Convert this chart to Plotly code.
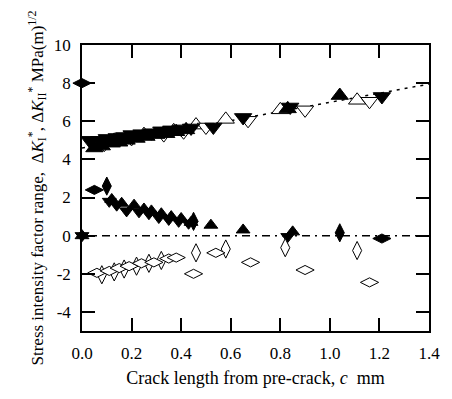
import plotly.graph_objects as go

# Mode I (upper cluster)
ki_fill_up_x = [0.05, 0.08, 0.12, 0.15, 0.18, 0.22, 0.26, 0.30, 0.34, 0.38, 0.42, 0.83, 1.04]
ki_fill_up_y = [4.6, 4.7, 4.85, 4.9, 5.0, 5.1, 5.2, 5.3, 5.35, 5.45, 5.55, 6.65, 7.35]
ki_fill_dn_x = [0.03, 0.07, 0.10, 0.14, 0.17, 0.20, 0.24, 0.28, 0.32, 0.36, 0.40, 0.44, 0.53, 0.65, 0.84, 1.21]
ki_fill_dn_y = [5.0, 5.0, 5.1, 5.15, 5.2, 5.3, 5.35, 5.4, 5.5, 5.55, 5.6, 5.65, 5.7, 6.2, 6.75, 7.3]
ki_open_up_x = [0.06, 0.13, 0.25, 0.37, 0.46, 0.58, 0.80, 1.11]
ki_open_up_y = [4.7, 5.0, 5.3, 5.5, 5.8, 6.1, 6.6, 7.1]
ki_open_dn_x = [0.09, 0.20, 0.33, 0.41, 0.50, 0.67, 0.90, 1.16]
ki_open_dn_y = [4.8, 5.1, 5.3, 5.45, 5.7, 6.05, 6.6, 7.05]

# Mode II (filled, decreasing)
kii_up_x = [0.00, 0.12, 0.16, 0.21, 0.25, 0.28, 0.32, 0.36, 0.40, 0.44, 0.52, 0.65, 0.85]
kii_up_y = [0.0, 1.9, 1.7, 1.6, 1.4, 1.3, 1.15, 1.0, 0.9, 0.7, 0.55, 0.3, 0.2]
kii_dn_x = [0.00, 0.11, 0.14, 0.18, 0.23, 0.27, 0.31, 0.35, 0.39, 0.43, 0.83]
kii_dn_y = [0.0, 1.8, 1.6, 1.3, 1.25, 1.15, 0.95, 0.85, 0.75, 0.65, -0.05]
kii_tall_x = [0.10, 1.04, 0.45]
kii_tall_y = [2.6, 0.15, 0.75]
kii_wide_x = [0.00, 0.05, 1.21]
kii_wide_y = [8.0, 2.4, -0.15]

# Open diamonds (negative)
neg_tall_x = [0.08, 0.13, 0.17, 0.22, 0.27, 0.32, 0.46, 0.58, 0.82, 1.11]
neg_tall_y = [-2.05, -1.9, -1.75, -1.6, -1.45, -1.3, -0.9, -0.7, -0.63, -0.78]
neg_wide_x = [0.06, 0.11, 0.15, 0.19, 0.24, 0.29, 0.35, 0.38, 0.45, 0.54, 0.68, 0.90, 1.16]
neg_wide_y = [-1.95, -1.85, -1.7, -1.6, -1.45, -1.4, -1.2, -1.15, -2.0, -0.9, -1.4, -1.8, -2.45]

fit_x = [0.0, 1.4]
fit_y = [4.6, 7.95]
zero_x = [0.0, 1.4]
zero_y = [0.0, 0.0]

x_ticks = [0.0, 0.2, 0.4, 0.6, 0.8, 1.0, 1.2, 1.4]
y_ticks = [-4, -2, 0, 2, 4, 6, 8, 10]

fig = go.Figure()
fig.add_trace(go.Scatter(x=fit_x, y=fit_y, mode="lines",
                         line=dict(color="black", width=1.5, dash="3px,5px")))
fig.add_trace(go.Scatter(x=zero_x, y=zero_y, mode="lines",
                         line=dict(color="black", width=1.5, dash="8px,5px,2px,5px")))

def add(x, y, symbol, filled, size=15):
    fig.add_trace(go.Scatter(
        x=x, y=y, mode="markers", cliponaxis=False,
        marker=dict(symbol=symbol, size=size,
                    color="black" if filled else "white",
                    line=dict(color="black", width=1))))

add(ki_open_up_x, ki_open_up_y, "triangle-up", False)
add(ki_open_dn_x, ki_open_dn_y, "triangle-down", False)
add(ki_fill_up_x, ki_fill_up_y, "triangle-up", True)
add(ki_fill_dn_x, ki_fill_dn_y, "triangle-down", True)
add(kii_up_x, kii_up_y, "triangle-up", True, 12)
add(kii_dn_x, kii_dn_y, "triangle-down", True, 12)
add(kii_tall_x, kii_tall_y, "diamond-tall", True, 13)
add(kii_wide_x, kii_wide_y, "diamond-wide", True, 13)
add(neg_tall_x, neg_tall_y, "diamond-tall", False, 13)
add(neg_wide_x, neg_wide_y, "diamond-wide", False, 13)

font = "Liberation Serif"
fig.update_layout(
    width=452, height=399,
    margin=dict(l=82, r=15, t=45, b=68),
    paper_bgcolor="white", plot_bgcolor="white",
    showlegend=False,
    font=dict(family=font, color="black", size=17),
)
fig.update_xaxes(
    range=[0, 1.4], tickvals=x_ticks, ticktext=[f"{v:.1f}" for v in x_ticks],
    ticks="inside", ticklen=13, tickwidth=1.5, tickcolor="black",
    showline=True, linecolor="black", linewidth=1.5, mirror="ticks",
    showgrid=False, zeroline=False, ticklabelstandoff=6,
    tickfont=dict(size=17),
    title=dict(text="Crack length from pre-crack, <i>c</i>  mm", font=dict(size=18), standoff=9),
)
fig.update_yaxes(
    range=[-5, 10], tickvals=y_ticks, ticktext=[str(v) for v in y_ticks],
    ticks="inside", ticklen=13, tickwidth=1.5, tickcolor="black",
    showline=True, linecolor="black", linewidth=1.5, mirror="ticks",
    showgrid=False, zeroline=False, ticklabelstandoff=6,
    tickfont=dict(size=17),
    title=dict(text="Stress intensity factor range,  Δ<i>K</i><sub>I</sub><sup>*</sup>, Δ<i>K</i><sub>II</sub><sup>*</sup> MPa(m)<sup>1/2</sup>",
               font=dict(size=17), standoff=6),
)
fig.write_html("out.html")
